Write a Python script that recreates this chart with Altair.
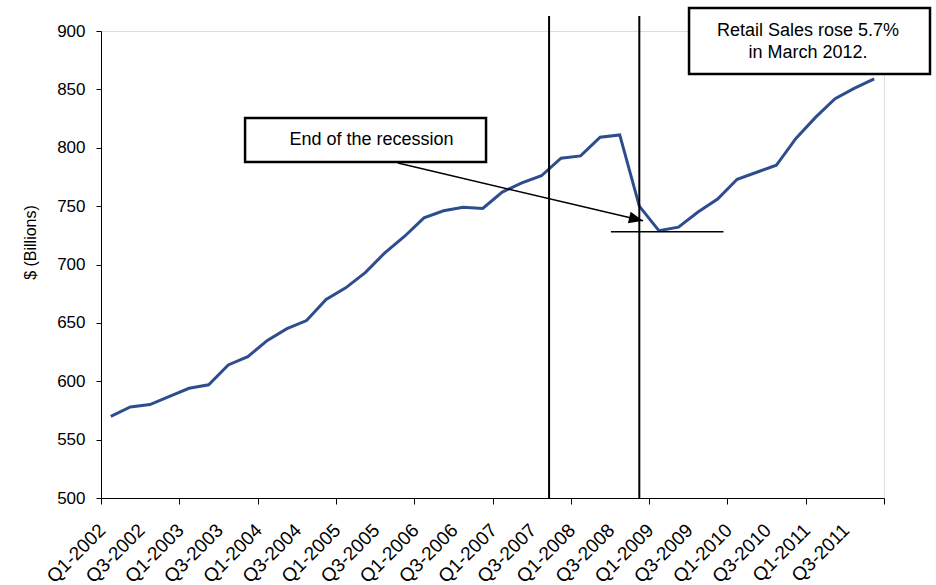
import altair as alt
import pandas as pd

# ---- data ----
quarters = [f"Q{q}-{y}" for y in range(2002, 2012) for q in range(1, 5)]
sales = [570, 578, 580, 587, 594, 597, 614, 621, 635, 645,
         652, 670, 680, 693, 710, 724, 740, 746, 749, 748,
         762, 770, 776, 791, 793, 809, 811, 750, 729, 732,
         745, 756, 773, 779, 785, 808, 826, 842, 851, 859]

# recession markers (x in category units, y in $ billions)
recession_x = [22.89, 27.5]
recession_y_top = 912.8
trough_x = [26.05, 31.8]
trough_y = 728

box1_text = ["End of the recession"]
box1_x = [7.36, 19.67]
box1_y = [787.8, 825.5]
box1_text_pos = (13.82, 806.6)

box2_text = ["Retail Sales rose 5.7%", "in March 2012."]
box2_x = [30.04, 42.35]
box2_y = [863.2, 919.7]
box2_text_x = 36.12
box2_text_y = [900.0, 881.0]

arrow_start = (15.17, 786.9)
arrow_tip = (27.69, 737.5)
arrow_angle = 13.25

FONT = "Liberation Sans"
LINE_COLOR = "#2E4D8E"

df = pd.DataFrame({"idx": [i + 0.5 for i in range(len(sales))],
                   "quarter": quarters, "sales": sales})

# category tick labels: every second quarter, hanging below its tick
lab_df = pd.DataFrame({
    "x": [i - 0.25 for i in range(0, len(quarters), 2)],
    "t": quarters[::2],
})
lab_df["y"] = 480.3

xscale = alt.Scale(domain=[0, 40], nice=False, zero=False)
yscale = alt.Scale(domain=[500, 900], nice=False, zero=False)

x_axis = alt.Axis(
    values=list(range(0, 41, 2)), labels=False, tickSize=6,
    domainColor="black", tickColor="black", grid=False, title=None,
)
y_axis = alt.Axis(
    values=list(range(500, 901, 50)), tickSize=5, labelPadding=11,
    domainColor="black", tickColor="black", labelColor="black",
    labelFont=FONT, labelFontSize=17, grid=False,
    title="$ (Billions)", titleFont=FONT, titleFontSize=16,
    titleFontWeight="normal", titleColor="black",
    titleX=-71, titleY=211, titleAlign="center", titleBaseline="middle",
    titleAngle=-90,
)

line = alt.Chart(df).mark_line(color=LINE_COLOR, strokeWidth=3).encode(
    x=alt.X("idx:Q", scale=xscale, axis=x_axis),
    y=alt.Y("sales:Q", scale=yscale, axis=y_axis),
)

xlabels = alt.Chart(lab_df).mark_text(
    font=FONT, fontSize=19, color="black", angle=315,
    align="right", baseline="top",
).encode(x="x:Q", y="y:Q", text="t:N")

vdf = pd.DataFrame({"x": recession_x, "y": [500] * 2, "y2": [recession_y_top] * 2})
vrules = alt.Chart(vdf).mark_rule(color="black", strokeWidth=2).encode(
    x="x:Q", y="y:Q", y2="y2:Q")

hdf = pd.DataFrame({"x": [trough_x[0]], "x2": [trough_x[1]], "y": [trough_y]})
hrule = alt.Chart(hdf).mark_rule(color="black", strokeWidth=1.5).encode(
    x="x:Q", x2="x2:Q", y="y:Q")

adf = pd.DataFrame({"x": [arrow_start[0]], "x2": [arrow_tip[0]],
                    "y": [arrow_start[1]], "y2": [arrow_tip[1]]})
arrow_line = alt.Chart(adf).mark_rule(color="black", strokeWidth=1.5).encode(
    x="x:Q", x2="x2:Q", y="y:Q", y2="y2:Q")

hdf2 = pd.DataFrame({"x": [arrow_tip[0]], "y": [arrow_tip[1]]})
arrow_head = alt.Chart(hdf2).mark_point(
    shape="M0,0L-2,-0.85L-2,0.85Z", filled=True, fill="black", color="black",
    size=200, angle=arrow_angle, opacity=1, strokeWidth=0,
).encode(x="x:Q", y="y:Q")

bdf = pd.DataFrame({"x": [box1_x[0], box2_x[0]], "x2": [box1_x[1], box2_x[1]],
                    "y": [box1_y[0], box2_y[0]], "y2": [box1_y[1], box2_y[1]]})
boxes = alt.Chart(bdf).mark_rect(fill="white", stroke="black", strokeWidth=2.5).encode(
    x="x:Q", x2="x2:Q", y="y:Q", y2="y2:Q")

tdf = pd.DataFrame({
    "x": [box1_text_pos[0]] + [box2_text_x] * len(box2_text),
    "y": [box1_text_pos[1]] + box2_text_y,
    "t": box1_text + box2_text,
})
texts = alt.Chart(tdf).mark_text(font=FONT, fontSize=18, color="black",
                                 align="center", baseline="middle").encode(
    x="x:Q", y="y:Q", text="t:N")

chart = alt.layer(line, xlabels, vrules, hrule, arrow_line, arrow_head, boxes, texts).properties(
    width=783, height=467,
    autosize=alt.AutoSizeParams(type="none"),
    padding={"left": 101, "top": 31, "right": 52, "bottom": 87},
).configure_view(stroke=None).configure(background="white")

chart.save("out.html", embed_options={"renderer": "svg", "actions": False})
